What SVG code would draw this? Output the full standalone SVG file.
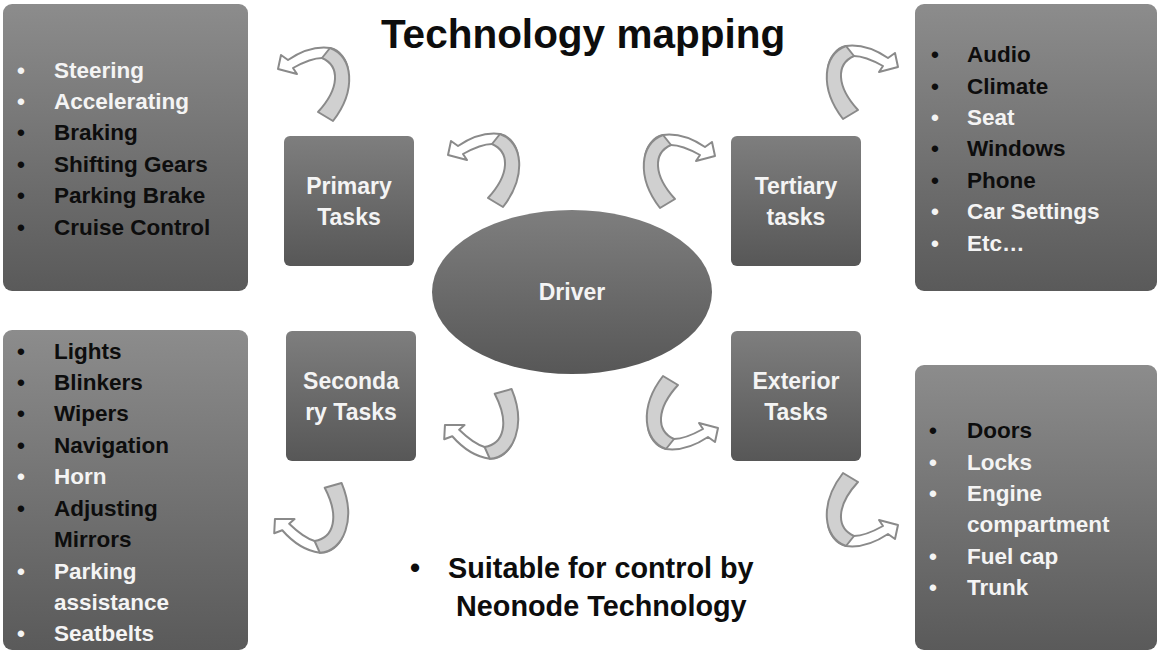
<svg xmlns="http://www.w3.org/2000/svg" xmlns:xlink="http://www.w3.org/1999/xlink" width="1160" height="651" viewBox="0 0 1160 651">
  <style>
    text { font-family: "Liberation Sans", Arial, sans-serif; font-weight: bold; }
    .title { font-size: 40.5px; fill: #0d0d0d; text-anchor: middle; }
    .item { font-size: 22.5px; }
    .dk { fill: #0d0d0d; }
    .lt { fill: #f4f4f4; }
    .task { font-size: 23px; fill: #f4f4f4; text-anchor: middle; }
    .note { font-size: 28.8px; fill: #0d0d0d; }
    .box { fill: url(#boxGrad); }
    .tbox { fill: url(#taskGrad); }
    .band-back { fill: #d0d0d0; stroke: #8a8a8a; stroke-width: 2; stroke-linejoin: round; }
    .band-front { fill: #ffffff; stroke: #8a8a8a; stroke-width: 2; stroke-linejoin: round; }
  </style>
  <defs>
    <linearGradient id="boxGrad" x1="0" y1="0" x2="0" y2="1">
      <stop offset="0" stop-color="#8c8c8c"/>
      <stop offset="1" stop-color="#5a5a5a"/>
    </linearGradient>
    <linearGradient id="taskGrad" x1="0" y1="0" x2="0" y2="1">
      <stop offset="0" stop-color="#7e7e7e"/>
      <stop offset="1" stop-color="#575757"/>
    </linearGradient>
    <!-- curled arrow, tip pointing left, origin near bbox centre -->
    <g id="curl">
      <path class="band-front" d="M -33,-29 L -26,-24 C -14,-32 1,-38 16,-36 C 26,-34 33,-24 34,-14 L 26,-12 C 24,-21 16,-26 8,-26 C -2,-26 -12,-21 -21,-16 L -17,-10 L -36,-15 Z"/>
      <path class="band-back" d="M 16,-36 C 39,-28 43,6 19,37 L 4,28 C 26,4 26,-18 8,-26 Z"/>
    </g>
  </defs>

  <rect width="1160" height="651" fill="#ffffff"/>

  <text class="title" x="583" y="48">Technology mapping</text>

  <!-- task groups -->
  <g id="primary-list">
    <rect class="box" x="3" y="4" width="245" height="287" rx="9"/>
    <g class="item">
      <text class="lt" x="17" y="78">•</text><text class="lt" x="54" y="78">Steering</text>
      <text class="lt" x="17" y="109">•</text><text class="lt" x="54" y="109">Accelerating</text>
      <text class="dk" x="17" y="140">•</text><text class="dk" x="54" y="140">Braking</text>
      <text class="dk" x="17" y="172">•</text><text class="dk" x="54" y="172">Shifting Gears</text>
      <text class="dk" x="17" y="203">•</text><text class="dk" x="54" y="203">Parking Brake</text>
      <text class="dk" x="17" y="235">•</text><text class="dk" x="54" y="235">Cruise Control</text>
    </g>
  </g>

  <g id="tertiary-list">
    <rect class="box" x="915" y="4" width="242" height="287" rx="9"/>
    <g class="item">
      <text class="dk" x="931" y="62">•</text><text class="dk" x="967" y="62">Audio</text>
      <text class="dk" x="931" y="94">•</text><text class="dk" x="967" y="94">Climate</text>
      <text class="lt" x="931" y="125">•</text><text class="lt" x="967" y="125">Seat</text>
      <text class="dk" x="931" y="156">•</text><text class="dk" x="967" y="156">Windows</text>
      <text class="dk" x="931" y="188">•</text><text class="dk" x="967" y="188">Phone</text>
      <text class="lt" x="931" y="219">•</text><text class="lt" x="967" y="219">Car Settings</text>
      <text class="lt" x="931" y="251">•</text><text class="lt" x="967" y="251">Etc…</text>
    </g>
  </g>

  <g id="secondary-list">
    <rect class="box" x="3" y="330" width="245" height="320" rx="9"/>
    <g class="item">
      <text class="dk" x="17" y="359">•</text><text class="dk" x="54" y="359">Lights</text>
      <text class="dk" x="17" y="390">•</text><text class="dk" x="54" y="390">Blinkers</text>
      <text class="dk" x="17" y="421">•</text><text class="dk" x="54" y="421">Wipers</text>
      <text class="dk" x="17" y="453">•</text><text class="dk" x="54" y="453">Navigation</text>
      <text class="lt" x="17" y="484">•</text><text class="lt" x="54" y="484">Horn</text>
      <text class="dk" x="17" y="516">•</text><text class="dk" x="54" y="516">Adjusting</text>
      <text class="dk" x="54" y="547">Mirrors</text>
      <text class="lt" x="17" y="579">•</text><text class="lt" x="54" y="579">Parking</text>
      <text class="lt" x="54" y="610">assistance</text>
      <text class="lt" x="17" y="641">•</text><text class="lt" x="54" y="641">Seatbelts</text>
    </g>
  </g>

  <g id="exterior-list">
    <rect class="box" x="915" y="365" width="242" height="285" rx="9"/>
    <g class="item">
      <text class="dk" x="929" y="438">•</text><text class="dk" x="967" y="438">Doors</text>
      <text class="lt" x="929" y="470">•</text><text class="lt" x="967" y="470">Locks</text>
      <text class="lt" x="929" y="501">•</text><text class="lt" x="967" y="501">Engine</text>
      <text class="lt" x="967" y="532">compartment</text>
      <text class="lt" x="929" y="564">•</text><text class="lt" x="967" y="564">Fuel cap</text>
      <text class="lt" x="929" y="595">•</text><text class="lt" x="967" y="595">Trunk</text>
    </g>
  </g>

  <g id="primary-tasks">
    <rect class="tbox" x="284" y="136" width="130" height="130" rx="6"/>
    <text class="task" x="349" y="194">Primary</text>
    <text class="task" x="349" y="225">Tasks</text>
  </g>

  <g id="tertiary-tasks">
    <rect class="tbox" x="731" y="136" width="130" height="130" rx="6"/>
    <text class="task" x="796" y="194">Tertiary</text>
    <text class="task" x="796" y="225">tasks</text>
  </g>

  <g id="secondary-tasks">
    <rect class="tbox" x="286" y="331" width="130" height="130" rx="6"/>
    <text class="task" x="351" y="389">Seconda</text>
    <text class="task" x="351" y="420">ry Tasks</text>
  </g>

  <g id="exterior-tasks">
    <rect class="tbox" x="731" y="331" width="130" height="130" rx="6"/>
    <text class="task" x="796" y="389">Exterior</text>
    <text class="task" x="796" y="420">Tasks</text>
  </g>

  <g id="driver">
    <ellipse cx="572" cy="292" rx="140" ry="82" fill="url(#taskGrad)"/>
    <text class="task" x="572" y="300">Driver</text>
  </g>

  <!-- curled connector arrows -->
  <g id="connectors">
    <use xlink:href="#curl" href="#curl" transform="translate(314,84)"/>
    <use xlink:href="#curl" href="#curl" transform="translate(484,170)"/>
    <use xlink:href="#curl" href="#curl" transform="translate(862,82) scale(-1,1)"/>
    <use xlink:href="#curl" href="#curl" transform="translate(679,171) scale(-1,1)"/>
    <use xlink:href="#curl" href="#curl" transform="translate(313.6,513.8) rotate(15) scale(1,-1)"/>
    <use xlink:href="#curl" href="#curl" transform="translate(483.6,419.8) rotate(15) scale(1,-1)"/>
    <use xlink:href="#curl" href="#curl" transform="translate(682,413) scale(-1,-1)"/>
    <use xlink:href="#curl" href="#curl" transform="translate(862,510) scale(-1,-1)"/>
  </g>

  <g id="footnote" class="note">
    <text x="410" y="578">•</text>
    <text x="448" y="578">Suitable for control by</text>
    <text x="456" y="616">Neonode Technology</text>
  </g>
</svg>
